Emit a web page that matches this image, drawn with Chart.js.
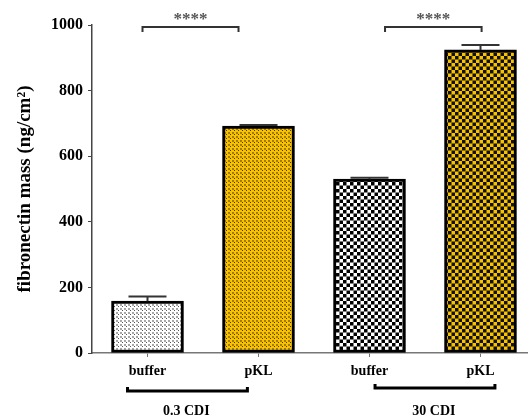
<!DOCTYPE html>
<html>
<head>
<meta charset="utf-8">
<script src="https://cdn.jsdelivr.net/npm/chart.js@4"></script>
<style>
  html, body { margin: 0; padding: 0; background: #fff; }
  #wrap { width: 528px; height: 416px; position: relative; }
</style>
</head>
<body>
<div id="wrap"><canvas id="chart"></canvas></div>
<script>
// data
const categories = ['buffer', 'pKL', 'buffer', 'pKL'];
const means = [158, 692, 530, 924];
const errors = [14, 3, 4, 15];
const groupLabels = ['0.3 CDI', '30 CDI'];
const starLabels = ['****', '****'];
const yTicks = [0, 200, 400, 600, 800, 1000];

const FONT = "'Liberation Serif', 'Times New Roman', serif";
const GOLD = '#f8c200';

// where the annotations sit, in x-axis units
const sigSpans = [[-0.045, 0.82], [2.14, 3.01]];
const groupSpans = [[-0.18, 0.9], [2.05, 3.13]];
const groupCenters = [0.35, 2.58];

function makePattern(size, bg, draw) {
    const c = document.createElement('canvas');
    c.width = size; c.height = size;
    const g = c.getContext('2d');
    g.fillStyle = bg;
    g.fillRect(0, 0, size, size);
    draw(g);
    return g.createPattern(c, 'repeat');
}

const ctx0 = document.getElementById('chart').getContext('2d');
const fills = [
    makePattern(4, '#ffffff', g => {
        g.fillStyle = '#a8a8a8'; g.fillRect(0, 0, 2, 2);
        g.fillStyle = '#555'; g.fillRect(2, 2, 1, 1);
    }),
    makePattern(4, GOLD, g => {
        g.fillStyle = '#a07c00'; g.fillRect(0, 0, 2, 2);
        g.fillStyle = '#4a3800'; g.fillRect(2, 2, 1, 1);
    }),
    makePattern(7, '#ffffff', g => {
        g.fillStyle = '#000';
        g.fillRect(0, 0, 3.5, 3.5);
        g.fillRect(3.5, 3.5, 3.5, 3.5);
    }),
    makePattern(7, GOLD, g => {
        g.fillStyle = '#111';
        g.fillRect(0, 0, 3.5, 3.5);
        g.fillRect(3.5, 3.5, 3.5, 3.5);
    })
];

const extras = {
    id: 'extras',
    afterDatasetsDraw(chart) {
        const ctx = chart.ctx;
        const xs = chart.scales.x, ys = chart.scales.y;
        const area = chart.chartArea;
        ctx.save();

        // error bars (upper only)
        ctx.strokeStyle = '#333';
        ctx.lineWidth = 2;
        means.forEach((m, i) => {
            const x = xs.getPixelForValue(i);
            const y0 = ys.getPixelForValue(m);
            const y1 = ys.getPixelForValue(m + errors[i]);
            ctx.beginPath();
            ctx.moveTo(x, y0); ctx.lineTo(x, y1);
            ctx.moveTo(x - 19, y1); ctx.lineTo(x + 19, y1);
            ctx.stroke();
        });

        // significance brackets
        ctx.strokeStyle = '#333';
        ctx.lineWidth = 2;
        ctx.fillStyle = '#555';
        ctx.font = 'bold 17px ' + FONT;
        ctx.textAlign = 'center';
        ctx.textBaseline = 'middle';
        sigSpans.forEach((s, i) => {
            const a = xs.getPixelForValue(s[0]);
            const b = xs.getPixelForValue(s[1]);
            const y = area.top + 2;
            ctx.beginPath();
            ctx.moveTo(a, y + 5); ctx.lineTo(a, y); ctx.lineTo(b, y); ctx.lineTo(b, y + 5);
            ctx.stroke();
            ctx.fillText(starLabels[i], (a + b) / 2, area.top - 5);
        });

        // group brackets under the axis
        ctx.strokeStyle = '#000';
        ctx.fillStyle = '#000';
        ctx.lineWidth = 3;
        ctx.font = 'bold 14px ' + FONT;
        groupSpans.forEach((s, i) => {
            const a = xs.getPixelForValue(s[0]);
            const b = xs.getPixelForValue(s[1]);
            const y = area.bottom + (i === 0 ? 38 : 35);
            ctx.beginPath();
            ctx.moveTo(a, y - 4); ctx.lineTo(a, y); ctx.lineTo(b, y); ctx.lineTo(b, y - 4);
            ctx.stroke();
            ctx.fillText(groupLabels[i], xs.getPixelForValue(groupCenters[i]), area.bottom + 58);
        });
        ctx.restore();
    }
};

new Chart(ctx0, {
    type: 'bar',
    data: {
        datasets: [{
            data: means.map((m, i) => ({ x: i, y: m })),
            backgroundColor: fills,
            borderColor: '#000',
            borderWidth: 3,
            borderSkipped: false,
            barThickness: 72
        }]
    },
    options: {
        responsive: true,
        maintainAspectRatio: false,
        animation: false,
        layout: { padding: { top: 25, left: 0, right: 0, bottom: 0 } },
        plugins: {
            legend: { display: false },
            tooltip: { enabled: false }
        },
        scales: {
            x: {
                type: 'linear',
                min: -0.5,
                max: 3.428,
                offset: false,
                afterFit: s => { s.height = 63; },
                afterBuildTicks: s => { s.ticks = categories.map((_, i) => ({ value: i })); },
                grid: { offset: false, drawOnChartArea: false, tickLength: 4, color: '#777' },
                border: { color: '#777', width: 1.5 },
                ticks: {
                    autoSkip: false,
                    maxRotation: 0,
                    padding: 6,
                    color: '#000',
                    font: { family: FONT, size: 14, weight: 'bold' },
                    callback: v => categories[v]
                }
            },
            y: {
                min: 0,
                max: 1000,
                afterFit: s => { s.width = 92; },
                afterBuildTicks: s => { s.ticks = yTicks.map(v => ({ value: v })); },
                grid: { drawOnChartArea: false, tickLength: 4, color: '#444' },
                border: { color: '#444', width: 1.5 },
                ticks: {
                    padding: 5,
                    color: '#000',
                    font: { family: FONT, size: 16, weight: 'bold' },
                    callback: v => String(v)
                },
                title: {
                    display: true,
                    text: 'fibronectin mass (ng/cm²)',
                    color: '#000',
                    padding: { top: 14, bottom: 0 },
                    font: { family: FONT, size: 19, weight: 'bold' }
                }
            }
        }
    },
    plugins: [extras]
});
</script>
</body>
</html>
